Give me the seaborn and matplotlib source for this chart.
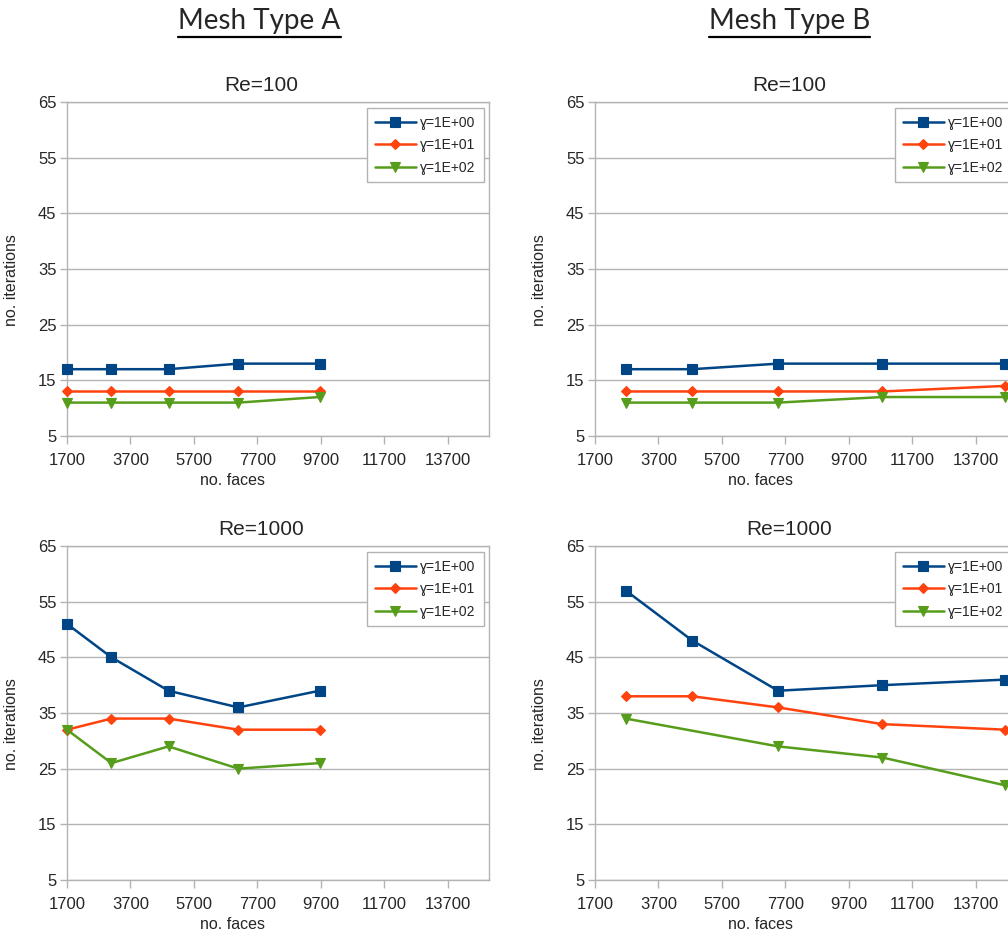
import numpy as np
import pandas as pd
import matplotlib
matplotlib.use("Agg")
import matplotlib.pyplot as plt
import seaborn as sns
from matplotlib.lines import Line2D

# ---- data -------------------------------------------------------------
faces_a = [1700, 3100, 4900, 7100, 9660]
faces_b = [2670, 4770, 7470, 10760, 14630]

gamma_labels = ["ɣ=1E+00", "ɣ=1E+01", "ɣ=1E+02"]

a_re100_g1 = [17, 17, 17, 18, 18]
a_re100_g10 = [13, 13, 13, 13, 13]
a_re100_g100 = [11, 11, 11, 11, 12]

b_re100_g1 = [17, 17, 18, 18, 18]
b_re100_g10 = [13, 13, 13, 13, 14]
b_re100_g100 = [11, 11, 11, 12, 12]

a_re1000_g1 = [51, 45, 39, 36, 39]
a_re1000_g10 = [32, 34, 34, 32, 32]
a_re1000_g100 = [32, 26, 29, 25, 26]

b_re1000_g1 = [57, 48, 39, 40, 41]
b_re1000_g10 = [38, 38, 36, 33, 32]
b_re1000_g100 = [34, np.nan, 29, 27, 22]

x_ticks = [1700, 3700, 5700, 7700, 9700, 11700, 13700]
y_ticks = [5, 15, 25, 35, 45, 55, 65]

column_titles = ["Mesh Type A", "Mesh Type B"]
row_titles = ["Re=100", "Re=1000"]

# ---- style ------------------------------------------------------------
sns.set_style("white")
plt.rcParams["font.family"] = ["Liberation Sans", "DejaVu Sans"]

colors = ["#004586", "#ff420e", "#579d1c"]
markers = ["s", "D", "v"]
msizes = [7.5, 5.0, 7.0]
grid_c = "#b3b3b3"

W, H = 1008, 932
fig = plt.figure(figsize=(W / 100, H / 100), dpi=100)


def px_axes(left, top, right, bottom):
    return fig.add_axes([left / W, 1 - bottom / H, (right - left) / W, (bottom - top) / H])


panels = [
    (px_axes(67, 102, 489, 436), faces_a, [a_re100_g1, a_re100_g10, a_re100_g100], row_titles[0]),
    (px_axes(595, 102, 1017, 436), faces_b, [b_re100_g1, b_re100_g10, b_re100_g100], row_titles[0]),
    (px_axes(67, 546, 489, 880), faces_a, [a_re1000_g1, a_re1000_g10, a_re1000_g100], row_titles[1]),
    (px_axes(595, 546, 1017, 880), faces_b, [b_re1000_g1, b_re1000_g10, b_re1000_g100], row_titles[1]),
]

for ax, faces, series, title in panels:
    for vals, lab, c, m, ms in zip(series, gamma_labels, colors, markers, msizes):
        df = pd.DataFrame({"faces": faces, "iters": vals}).dropna()
        sns.lineplot(data=df, x="faces", y="iters", ax=ax, color=c, marker=m,
                     markersize=ms, markeredgecolor=c, markeredgewidth=0.8,
                     linewidth=1.8, label=lab, clip_on=False, zorder=3)
    ax.set_xlim(1700, 15000)
    ax.set_ylim(5, 65)
    ax.set_xticks(x_ticks)
    ax.set_yticks(y_ticks)
    ax.grid(axis="y", color=grid_c, linewidth=1.0)
    ax.set_axisbelow(True)
    for sp in ax.spines.values():
        sp.set_color(grid_c)
        sp.set_linewidth(1.0)
    ax.tick_params(axis="both", which="major", labelsize=12, color=grid_c,
                   length=5.4, width=1.0, direction="out", bottom=True, left=True)
    ax.tick_params(axis="x", pad=6.5)
    ax.tick_params(axis="y", pad=2.2)
    ax.set_xlabel("no. faces", fontsize=11.5)
    ax.set_ylabel("no. iterations", fontsize=11.5)
    ax.xaxis.set_label_coords(0.393, -0.11)
    ax.yaxis.set_label_coords(-0.113, 0.467)
    ax.set_title(title, fontsize=15, pad=8, x=0.46)
    leg = ax.legend(loc="upper right", bbox_to_anchor=(0.987, 0.981), borderaxespad=0,
                    fontsize=10, frameon=True, fancybox=False, framealpha=1,
                    edgecolor=grid_c, handlelength=3.0, handletextpad=0.3,
                    labelspacing=0.6, borderpad=0.55)
    leg.get_frame().set_linewidth(1.0)

# column headers, underlined
headers = []
for cx, txt in zip([259.5, 789.5], column_titles):
    t = fig.text(cx / W, 1 - 21 / H, txt, ha="center", va="center",
                 fontsize=20, family=["Lato", "DejaVu Sans"])
    headers.append(t)

fig.canvas.draw()
renderer = fig.canvas.get_renderer()
for t in headers:
    bb = t.get_window_extent(renderer)
    y = 1 - 37 / H
    fig.lines.append(Line2D([bb.x0 / W, bb.x1 / W], [y, y], transform=fig.transFigure,
                            color="black", linewidth=1.6))

fig.savefig("out.png", dpi=100)
